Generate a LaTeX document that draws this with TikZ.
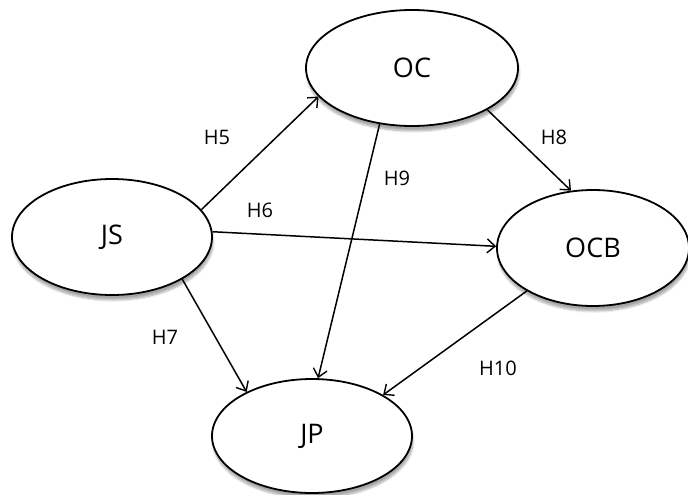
\documentclass[tikz,border=0pt]{standalone}
\usepackage{fontspec}
\setmainfont{Open Sans}
\usetikzlibrary{shapes.geometric,arrows.meta,shadows.blur}
\begin{document}
\begin{tikzpicture}[x=1pt,y=-1pt,
  construct/.style={ellipse, draw, line width=1.8pt, fill=white, inner sep=0pt,
    font=\fontsize{27}{30}\selectfont,
    blur shadow={shadow xshift=1pt, shadow yshift=-5pt, shadow blur steps=8, shadow opacity=35}},
  path/.style={line width=1.5pt, -{Straight Barb[length=8pt,width=14pt,line width=1.4pt]}},
  hyp/.style={font=\fontsize{20}{24}\selectfont}]
\useasboundingbox (0,0) rectangle (688,495);
% latent constructs
\node[construct, minimum width=212pt, minimum height=116pt] (OC)  at (412,68)  {OC};
\node[construct, minimum width=200pt, minimum height=116pt] (JS)  at (112,237) {JS};
\node[construct, minimum width=192pt, minimum height=116pt] (OCB) at (593,248) {OCB};
\node[construct, minimum width=200pt, minimum height=114pt] (JP)  at (312,436) {JP};
% hypothesised paths
\draw[path] (JS.17)    -- (OC.197);
\draw[path] (JS.3)     -- (OCB.179);
\draw[path] (JS.-31)   -- (JP.146);
\draw[path] (OC.-120)  -- (JP.84);
\draw[path] (OC.-29)   -- (OCB.111);
\draw[path] (OCB.-147) -- (JP.30);
% path labels
\node[hyp] (h5)  at (217,137) {H5};
\node[hyp] (h6)  at (260,210) {H6};
\node[hyp] (h7)  at (165,337) {H7};
\node[hyp] (h8)  at (554,137) {H8};
\node[hyp] (h9)  at (397,178) {H9};
\node[hyp] (h10) at (498,368) {H10};
\end{tikzpicture}
\end{document}
